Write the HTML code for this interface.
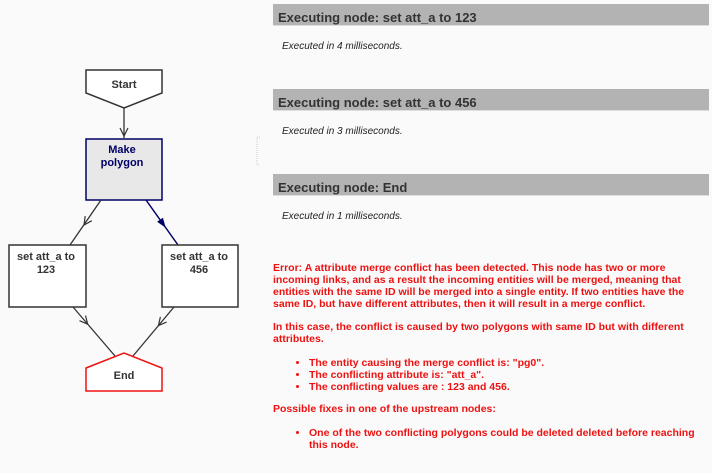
<!DOCTYPE html>
<html><head><style>
body{margin:0;width:712px;height:473px;background:#fafafa;font-family:"Liberation Sans",Arial,sans-serif;position:relative;overflow:hidden}
.h{position:absolute;left:273px;width:436px;height:22px;background:#b3b3b3;color:#333;font-weight:bold;font-size:13px;line-height:27px;padding-left:5px;box-sizing:border-box;border-bottom:1px solid #ddd}
.it{position:absolute;left:282px;font-style:italic;font-size:10px;color:#222}
.r{position:absolute;left:273px;color:#ee1111;font-weight:bold;font-size:10.5px;line-height:12px;width:430px}
ul{margin:0;padding-left:36px}
</style></head><body>
<svg width="260" height="473" style="position:absolute;left:0;top:0" font-family="Liberation Sans,Arial,sans-serif" font-weight="bold" font-size="11">
<polygon points="86,70 162,70 162,93 124,108 86,93" fill="#fff" stroke="#333" stroke-width="1.5"/>
<text x="124" y="88" text-anchor="middle" fill="#333">Start</text>
<line x1="124" y1="108" x2="124" y2="138" stroke="#333" stroke-width="1.3"/>
<polyline points="120,128 124,136 128,128" fill="none" stroke="#333" stroke-width="1.2"/>
<rect x="86" y="139" width="76" height="61" fill="#e8e8e8" stroke="#000066" stroke-width="1.5"/>
<text x="122" y="153" text-anchor="middle" fill="#000066">Make</text>
<text x="122" y="166" text-anchor="middle" fill="#000066">polygon</text>
<line x1="101" y1="200" x2="70" y2="245" stroke="#333" stroke-width="1.3"/>
<polyline points="91.8,220.7 84,225 85.2,216.1" fill="none" stroke="#333" stroke-width="1.2"/>
<line x1="146" y1="200" x2="178" y2="245" stroke="#000066" stroke-width="1.5"/>
<polygon points="162.9,217.8 165.8,227.9 157.1,221.8" fill="#000066"/>
<rect x="9" y="245" width="77" height="62" fill="#fff" stroke="#333" stroke-width="1.5"/>
<text x="46" y="260" text-anchor="middle" fill="#333">set att_a to</text>
<text x="46" y="273" text-anchor="middle" fill="#333">123</text>
<rect x="162" y="245" width="76" height="62" fill="#fff" stroke="#333" stroke-width="1.5"/>
<text x="199" y="260" text-anchor="middle" fill="#333">set att_a to</text>
<text x="199" y="273" text-anchor="middle" fill="#333">456</text>
<line x1="73" y1="307" x2="115" y2="356" stroke="#333" stroke-width="1.3"/>
<polyline points="85.5,315.5 87.7,324.2 79.5,320.7" fill="none" stroke="#333" stroke-width="1.2"/>
<line x1="174" y1="307" x2="133" y2="356" stroke="#333" stroke-width="1.3"/>
<polyline points="166.6,322.1 158.4,325.6 160.4,316.9" fill="none" stroke="#333" stroke-width="1.2"/>
<polygon points="86,368 124,353 162,368 162,391 86,391" fill="#fff" stroke="#ee1111" stroke-width="1.5"/>
<text x="124" y="379" text-anchor="middle" fill="#333">End</text>
<rect x="257" y="137" width="4" height="28" fill="none" stroke="#ccc" stroke-dasharray="1,1"/>
</svg>
<div class="h" style="top:4px">Executing node: set att_a to 123</div>
<div class="it" style="top:41px">Executed in 4 milliseconds.</div>
<div class="h" style="top:89px">Executing node: set att_a to 456</div>
<div class="it" style="top:126px">Executed in 3 milliseconds.</div>
<div class="h" style="top:174px">Executing node: End</div>
<div class="it" style="top:211px">Executed in 1 milliseconds.</div>
<div class="r" style="top:262px">Error: A attribute merge conflict has been detected. This node has two or more incoming links, and as a result the incoming entities will be merged, meaning that entities with the same ID will be merged into a single entity. If two entities have the same ID, but have different attributes, then it will result in a merge conflict.</div>
<div class="r" style="top:321px">In this case, the conflict is caused by two polygons with same ID but with different attributes.</div>
<div class="r" style="top:357px"><ul><li>The entity causing the merge conflict is: "pg0".</li><li>The conflicting attribute is: "att_a".</li><li>The conflicting values are : 123 and 456.</li></ul></div>
<div class="r" style="top:403px">Possible fixes in one of the upstream nodes:</div>
<div class="r" style="top:427px"><ul><li>One of the two conflicting polygons could be deleted deleted before reaching this node.</li></ul></div>
</body></html>
